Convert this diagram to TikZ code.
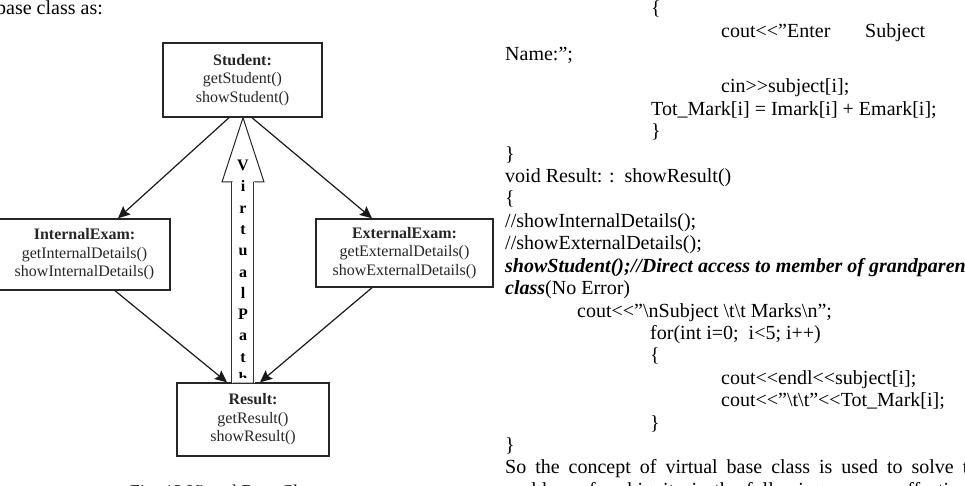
\documentclass[tikz,border=0pt]{standalone}
\usepackage{fontspec}
\setmainfont{Liberation Serif}
\usetikzlibrary{arrows.meta}

\newcommand\ltlt{<\kern0pt<}
\newcommand\gtgt{>\kern0pt>}

\begin{document}
\begin{tikzpicture}[x=1pt, y=-1pt,
  classbox/.style={rectangle, draw=black!85, line width=1.4pt,
    align=center, inner sep=0pt, text=black!85,
    font=\fontsize{16}{18.5}\selectfont},
  arr/.style={-{Stealth[length=12pt, width=11pt, inset=2pt]}, line width=1.2pt, draw=black!90},
  vpath/.style={draw=black!85, line width=1pt, fill=white},
  vside/.style={draw=black!80, double=white, double distance=0.7pt, line width=0.7pt},
  vletter/.style={anchor=base, inner sep=0pt, font=\fontsize{16}{18}\selectfont\bfseries},
  codeline/.style={anchor=base west, inner sep=0pt, font=\fontsize{20}{24}\selectfont},
  capline/.style={anchor=base west, inner sep=0pt, font=\fontsize{18}{22}\selectfont}
]
\useasboundingbox (0,0) rectangle (965,486);

%% ==== Class boxes ====
\node[classbox, minimum width=159pt, minimum height=74pt] (stu) at (242.5,80)
  {\textbf{Student:}\\getStudent()\\showStudent()};
\node[classbox, minimum width=171pt, minimum height=71pt] (int) at (84.5,254.5)
  {\textbf{InternalExam:}\\getInternalDetails()\\showInternalDetails()};
\node[classbox, minimum width=177pt, minimum height=68pt] (ext) at (404.5,253)
  {\textbf{ExternalExam:}\\getExternalDetails()\\showExternalDetails()};
\node[classbox, minimum width=152pt, minimum height=73pt] (res) at (253,419.5)
  {\textbf{Result:}\\getResult()\\showResult()};

%% ==== Inheritance arrows ====
\foreach \a/\da/\b/\db in {stu/-13.5/int/33.5, stu/9.5/ext/-32.5, int/30.5/res/-26, ext/-32.5/res/7}
  \draw[arr] ([xshift=\da]\a.south) -- ([xshift=\db]\b.north);

%% ==== Virtual path block arrow ====
\draw[vpath] (stu.south -| 243,0) -- (264,182) -- (254,182) -- (254,383)
  -- (232,383) -- (232,182) -- (222,182) -- cycle;
\draw[vside] (232,182) -- (232,383);
\draw[vside] (254,182) -- (254,383);

\begin{scope}
  \clip (222,117) rectangle (264,377);
  \foreach \ch [count=\k from 0] in {V,i,r,t,u,a,l,P,a,t,h}
    \node[vletter] (vp\k) at (243,170.5+21.3*\k) {\ch};
\end{scope}

%% ==== Page text ====
\node[codeline] (intro) at (-4,15) {base class as:};
\node[capline]  (cap)   at (130,497) {Fig. 13 Virtual Base Class};

%% ==== Code listing ====
\node[codeline] (c1)  at (651,15)    {\{};
\node[codeline] (c2)  at (721,38)    {\makebox[204pt][s]{cout\ltlt”Enter Subject}};
\node[codeline] (c3)  at (505,61)    {Name:”;};
\node[codeline] (c4)  at (721,93)    {cin\gtgt subject[i];};
\node[codeline] (c5)  at (651,115.4) {Tot\_Mark[i] = Imark[i] + Emark[i];};
\node[codeline] (c6)  at (651,137.8) {\}};
\node[codeline] (c7)  at (505,160.2) {\}};
\node[codeline] (c8)  at (505,182.6) {void Result: :\ \ showResult()};
\node[codeline] (c9)  at (505,205)   {\{};
\node[codeline] (c10) at (505,227.4) {//showInternalDetails();};
\node[codeline] (c11) at (505,249.8) {//showExternalDetails();};
\node[codeline] (c12) at (505,272.2) {\textbf{\textit{showStudent();//Direct access to member of grandparent}}};
\node[codeline] (c13) at (505,294.6) {\textbf{\textit{class}}(No Error)};
\node[codeline] (c14) at (577,317)   {cout\ltlt”\textbackslash nSubject \textbackslash t\textbackslash t Marks\textbackslash n”;};
\node[codeline] (c15) at (650,339.4) {for(int i=0;\ \ i<5; i++)};
\node[codeline] (c16) at (650,361.8) {\{};
\node[codeline] (c17) at (721,384.2) {cout\ltlt endl\ltlt subject[i];};
\node[codeline] (c18) at (721,406.6) {cout\ltlt”\textbackslash t\textbackslash t”\ltlt Tot\_Mark[i];};
\node[codeline] (c19) at (650,429)   {\}};
\node[codeline] (c20) at (505,451.4) {\}};
\node[codeline] (c21) at (505,473.8) {\makebox[482pt][s]{So the concept of virtual base class is used to solve the}};
\node[codeline] (c22) at (505,496.2) {\makebox[482pt][s]{problem of ambiguity in the following manner effectively.}};

\end{tikzpicture}
\end{document}
